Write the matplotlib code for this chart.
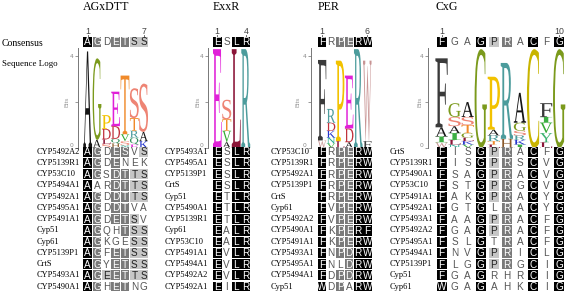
import matplotlib
matplotlib.use('Agg')
import matplotlib.pyplot as plt
from matplotlib.patches import Rectangle, PathPatch
from matplotlib.textpath import TextPath
from matplotlib.font_manager import FontProperties
from matplotlib.transforms import Affine2D

# --- dati ---
TITLES = ['AGxDTT', 'ExxR', 'PER', 'CxG']
CONSENSUS = ['AGDETSS', 'ESLR', 'FRPERW', 'FGAGPRACFG']

NAMES_AG = ['CYP5492A2', 'CYP5139R1', 'CYP53C10', 'CYP5494A1', 'CYP5492A1', 'CYP5495A1',
            'CYP5491A1', 'Cyp51', 'Cyp61', 'CYP5139P1', 'CrtS', 'CYP5493A1', 'CYP5490A1']
SEQS_AG = ['AGDESVS', 'AGDENEK', 'AGSDTTS', 'AARDTTS', 'AGDDTTS', 'AGDDTVA', 'AGDETSV',
           'AGQHTSS', 'AGKGESS', 'AGFETSS', 'AGYETSS', 'AGEETTS', 'AGHETNG']

NAMES_EXXR = ['CYP5493A1', 'CYP5495A1', 'CYP5139P1', 'CrtS', 'Cyp51', 'CYP5490A1', 'CYP5139R1',
              'Cyp61', 'CYP53C10', 'CYP5491A1', 'CYP5494A1', 'CYP5492A2', 'CYP5492A1']
SEQS_EXXR = ['ESLR', 'ESLR', 'ESLR', 'ESLR', 'ETLR', 'ETLR', 'ETLR',
             'EALR', 'EALR', 'EVLR', 'EVLR', 'EVLR', 'EILR']

NAMES_PER = ['CYP53C10', 'CYP5139R1', 'CYP5492A1', 'CYP5139P1', 'CrtS', 'Cyp61', 'CYP5492A2',
             'CYP5490A1', 'CYP5491A1', 'CYP5493A1', 'CYP5495A1', 'CYP5494A1', 'Cyp51']
SEQS_PER = ['FRPERW', 'FRPERW', 'FRPERW', 'FRPERW', 'FRPERW', 'FVPERW', 'FVPERW',
            'FKPERF', 'FKPERW', 'FNPDRW', 'FNLDRW', 'FDPDRW', 'WDPARW']

NAMES_CXG = ['CrtS', 'CYP5139R1', 'CYP5490A1', 'CYP53C10', 'CYP5491A1', 'CYP5492A1', 'CYP5493A1',
             'CYP5492A2', 'CYP5495A1', 'CYP5494A1', 'CYP5139P1', 'Cyp51', 'Cyp61']
SEQS_CXG = ['FISGPRACFG', 'FISGPRSCVG', 'FSAGPRACVG', 'FSTGPRGCVG', 'FAKGPRACYG', 'FGTGLRACYG',
            'FAAGPRACFG', 'FGAGPRACFG', 'FSLGTRACFG', 'FNVGPRICLG', 'FLGGPRGCIG',
            'FGAGRHRCIG', 'WGAGAHKCIG']

# logo: per colonna, lettere dal basso verso l'alto (lettera, bits)
LOGO_AG = [[('A', 4.2)],
           [('A', 0.35), ('G', 3.55)],
           [('S', 0.18), ('L', 0.2), ('D', 0.45), ('P', 0.6)],
           [('H', 0.2), ('Q', 0.2), ('D', 0.55), ('E', 1.5)],
           [('N', 0.12), ('S', 0.18), ('V', 0.3), ('T', 2.55)],
           [('E', 0.15), ('Q', 0.3), ('R', 0.3), ('T', 0.55), ('S', 1.3)],
           [('K', 0.3), ('A', 0.4), ('S', 2.1)]]
LOGO_EXXR = [[('E', 4.3)],
             [('A', 0.25), ('V', 0.5), ('T', 0.5), ('S', 0.85)],
             [('L', 4.3)],
             [('R', 4.3)]]
LOGO_PER = [[('W', 0.33), ('F', 3.5)],
            [('V', 0.2), ('N', 0.25), ('K', 0.3), ('D', 0.35), ('R', 0.6)],
            [('L', 0.3), ('P', 3.5)],
            [('A', 0.25), ('D', 0.6), ('E', 2.3)],
            [('R', 4.3)],
            [('F', 0.3), ('W', 3.5)]]
LOGO_CXG = [[('W', 0.25), ('I', 0.25), ('A', 0.4), ('F', 3.0)],
            [('N', 0.15), ('L', 0.2), ('I', 0.3), ('A', 0.3), ('S', 0.4), ('G', 0.6)],
            [('V', 0.15), ('K', 0.15), ('L', 0.15), ('G', 0.2), ('T', 0.35), ('S', 0.35), ('A', 0.65)],
            [('G', 4.3)],
            [('L', 0.15), ('T', 0.15), ('R', 0.25), ('A', 0.25), ('P', 2.3)],
            [('H', 0.4), ('R', 3.3)],
            [('I', 0.15), ('K', 0.2), ('R', 0.2), ('S', 0.2), ('G', 0.35), ('A', 1.3)],
            [('C', 4.3)],
            [('L', 0.25), ('Y', 0.4), ('V', 0.45), ('I', 0.25), ('F', 0.6)],
            [('G', 4.3)]]

# --- stile ---
W_PX, H_PX = 567, 291
LETTER_COLORS = {
    'A': '#151515', 'C': '#c8b400', 'D': '#c0303a', 'E': '#e020d8', 'F': '#3a3a3a',
    'G': '#7b9a1c', 'H': '#8b5a2b', 'I': '#3cb043', 'K': '#2233cc', 'L': '#8b1538',
    'N': '#20a890', 'P': '#f2c200', 'Q': '#2e8b57', 'R': '#4c9c9c', 'S': '#ee8474',
    'T': '#f08a2a', 'V': '#33aa33', 'W': '#c89494', 'Y': '#3cb371',
}
SIMILAR = {frozenset(p) for p in ['DE', 'ND', 'NH', 'NS', 'QE', 'QK', 'QR', 'EK', 'KR', 'HY',
                                  'IL', 'IM', 'IV', 'LM', 'LV', 'MV', 'FW', 'FY', 'WY', 'ST']}
LOGO_FONT = FontProperties(family='Liberation Serif')
SERIF = 'Liberation Serif'
SANS = 'Liberation Sans'

# layout in pixel per pannello
LAYOUT = [
    dict(x0=83.0, x1=148.3, name_x=37.0, spine_x=77.7, ylab_x=69.5, box_w=0.95),
    dict(x0=212.5, x1=250.5, name_x=165.0, spine_x=207.7, ylab_x=200.0, box_w=0.95),
    dict(x0=317.5, x1=371.8, name_x=270.5, spine_x=310.5, ylab_x=300.5, box_w=0.95),
    dict(x0=435.0, x1=565.7, name_x=390.0, spine_x=428.0, ylab_x=422.5, box_w=0.77),
]


def px_rect(x0, y0, x1, y1):
    return [x0 / W_PX, 1 - y1 / H_PX, (x1 - x0) / W_PX, (y1 - y0) / H_PX]


def frazione_simile(res, column):
    hits = sum(1 for r in column if r == res or frozenset((r, res)) in SIMILAR)
    return hits / len(column)


def stile_cella(frac):
    if frac >= 0.999:
        return '#000000', 'white'
    if frac >= 0.8:
        return '#7a7a7a', 'white'
    if frac >= 0.6:
        return '#c6c6c6', '#222222'
    return 'white', '#555555'


def disegna_lettera(ax, ch, x, y, w, h):
    tp = TextPath((0, 0), ch, size=1, prop=LOGO_FONT)
    bb = tp.get_extents()
    tr = Affine2D().translate(-bb.x0, -bb.y0).scale(w / bb.width, h / bb.height).translate(x, y)
    ax.add_patch(PathPatch(tr.transform_path(tp), facecolor=LETTER_COLORS.get(ch, 'k'),
                           edgecolor='none'))


def disegna_pannello(fig, title, names, seqs, cons, logo, lay):
    n = len(cons)
    cols = [''.join(s[j] for s in seqs) for j in range(n)]
    x0, x1, bw = lay['x0'], lay['x1'], lay['box_w']

    fig.text(x0 / W_PX, 1 - 7 / H_PX, title, ha='left', va='center',
             fontsize=8.6, family=SERIF)

    # consenso
    axc = fig.add_axes(px_rect(x0, 37, x1, 47))
    axc.set_xlim(-0.5, n - 0.5)
    axc.set_ylim(0, 1)
    axc.axis('off')
    for j, ch in enumerate(cons):
        bg, fg = stile_cella(frazione_simile(ch, cols[j]))
        axc.add_patch(Rectangle((j - bw / 2, 0), bw, 1, facecolor=bg, edgecolor='none'))
        axc.text(j, 0.47, ch, ha='center', va='center', color=fg, fontsize=7.2, family=SANS)
    for j in (0, n - 1):
        axc.plot([j, j], [1.03, 1.25], color='#555555', lw=0.6, clip_on=False)
        axc.text(j, 1.6, str(j + 1), ha='center', va='center', color='#444444',
                 fontsize=6.3, family=SANS, clip_on=False)

    # logo
    axl = fig.add_axes(px_rect(x0, 48, x1, 148))
    axl.set_xlim(-0.5, n - 0.5)
    axl.set_ylim(0, 4.35)
    lw = 0.94
    for j, stack in enumerate(logo):
        y = 0.0
        for ch, hgt in stack:
            disegna_lettera(axl, ch, j - lw / 2, y, lw, hgt)
            y += hgt
    for s in ('top', 'right', 'bottom'):
        axl.spines[s].set_visible(False)
    axl.spines['left'].set_position(('outward', (x0 - lay['spine_x']) * 0.72))
    axl.spines['left'].set_color('#777777')
    axl.spines['left'].set_linewidth(0.7)
    axl.set_xticks([])
    axl.set_yticks([0, 2, 4])
    axl.set_yticklabels(['0', '', '4'])
    axl.tick_params(axis='y', length=2.2, width=0.6, colors='#888888', labelsize=4.3, pad=1)
    axl.yaxis.get_major_ticks()[0].label1.set_va('bottom')
    axl.set_ylabel('Bits', fontsize=4.5, color='#999999', family=SANS)
    axl.yaxis.set_label_coords((lay['ylab_x'] - x0) / (x1 - x0), 0.46)
    axl.patch.set_alpha(0)

    # allineamento
    axa = fig.add_axes(px_rect(x0, 146.1, x1, 292.3))
    axa.set_xlim(-0.5, n - 0.5)
    axa.set_ylim(len(seqs) - 0.5, -0.5)
    axa.axis('off')
    name_pos = (lay['name_x'] - x0) / (x1 - x0)
    for i, (nm, seq) in enumerate(zip(names, seqs)):
        axa.text(name_pos, i, nm, transform=axa.get_yaxis_transform(), ha='left',
                 va='center', fontsize=6.0, family=SERIF, clip_on=False)
        for j, ch in enumerate(seq):
            bg, fg = stile_cella(frazione_simile(ch, cols[j]))
            axa.add_patch(Rectangle((j - bw / 2, i - 0.45), bw, 0.9, facecolor=bg,
                                    edgecolor='none', clip_on=False))
            axa.text(j, i + 0.03, ch, ha='center', va='center', color=fg, fontsize=7.2,
                     family=SANS, clip_on=False)


def genera_figura():
    fig = plt.figure(figsize=(W_PX / 100, H_PX / 100), dpi=100)
    fig.text(2 / W_PX, 1 - 43 / H_PX, 'Consensus', ha='left', va='center',
             fontsize=7.0, family=SERIF)
    fig.text(2 / W_PX, 1 - 64 / H_PX, 'Sequence Logo', ha='left', va='center',
             fontsize=6.4, family=SERIF)

    dati = [(NAMES_AG, SEQS_AG, LOGO_AG), (NAMES_EXXR, SEQS_EXXR, LOGO_EXXR),
            (NAMES_PER, SEQS_PER, LOGO_PER), (NAMES_CXG, SEQS_CXG, LOGO_CXG)]
    for k, (names, seqs, logo) in enumerate(dati):
        disegna_pannello(fig, TITLES[k], names, seqs, CONSENSUS[k], logo, LAYOUT[k])

    fig.savefig('out.png', dpi=100)


if __name__ == "__main__":
    genera_figura()
